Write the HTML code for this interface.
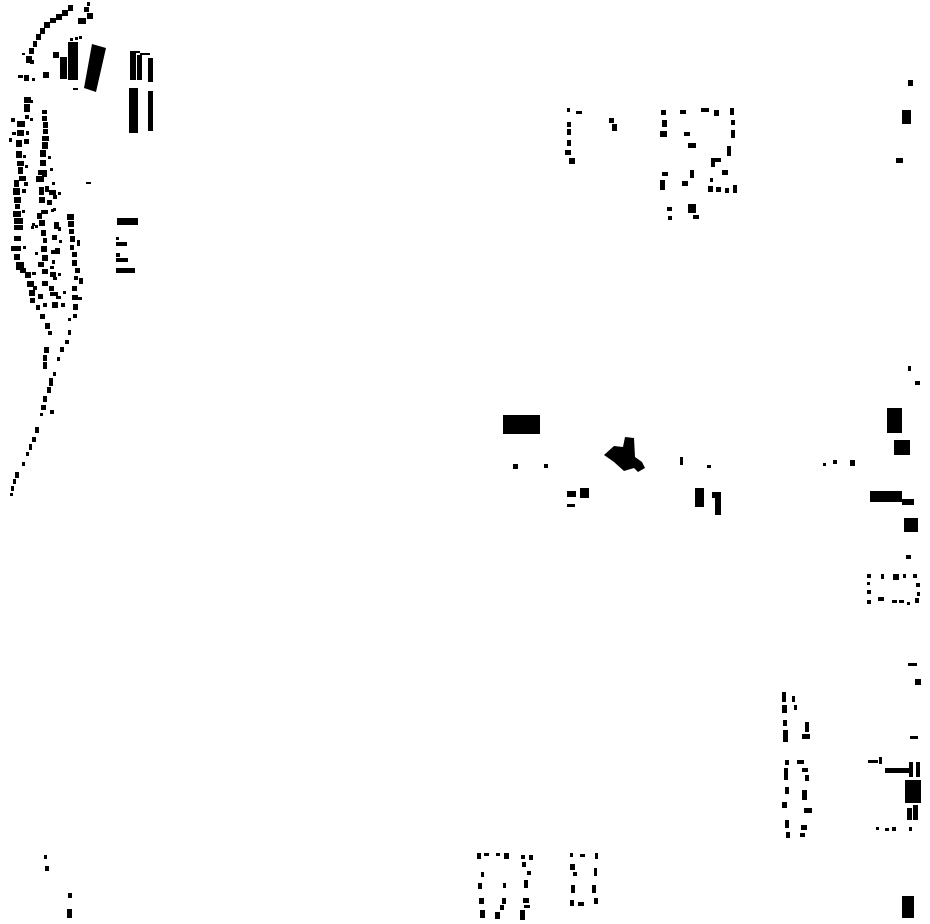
<!DOCTYPE html>
<html><head><meta charset="utf-8"><style>
html,body{margin:0;padding:0;background:#fff;width:930px;height:924px;overflow:hidden}
svg{display:block}
</style></head><body>
<svg width="930" height="924" viewBox="0 0 930 924" xmlns="http://www.w3.org/2000/svg" fill="#000">
<!-- top-left arc -->
<g>
<rect x="87" y="2" width="3" height="4"/><rect x="84" y="7" width="5" height="5"/><rect x="87" y="13" width="6" height="6"/><rect x="78" y="18" width="8" height="6"/>
<rect x="68" y="5" width="5" height="6"/><rect x="62" y="10" width="6" height="6"/><rect x="56" y="14" width="6" height="6"/><rect x="50" y="18" width="6" height="5"/>
<rect x="44" y="22" width="6" height="6"/><rect x="40" y="28" width="5" height="6"/><rect x="36" y="34" width="5" height="6"/><rect x="33" y="41" width="4" height="6"/>
<rect x="29" y="48" width="5" height="6"/><rect x="26" y="56" width="6" height="7"/><rect x="22" y="53" width="3" height="2"/><rect x="30" y="60" width="4" height="4"/>
<rect x="18" y="75" width="5" height="3"/><rect x="24" y="75" width="5" height="6"/><rect x="32" y="78" width="3" height="3"/><rect x="43" y="72" width="6" height="6"/>
<rect x="53" y="52" width="6" height="6"/><rect x="73" y="88" width="5" height="2"/>
<rect x="60" y="57" width="7" height="22"/><rect x="68" y="42" width="10" height="38"/>
<rect x="70" y="38" width="3" height="3"/><rect x="75" y="37" width="3" height="3"/><rect x="79" y="36" width="3" height="3"/>
<polygon points="92,44 106,48 96,92 84,88"/>
<rect x="130" y="52" width="6" height="28"/><rect x="137" y="55" width="5" height="25"/><rect x="148" y="58" width="5" height="24"/>
<rect x="130" y="51" width="10" height="2"/><rect x="140" y="53" width="10" height="2"/>
<rect x="129" y="88" width="9" height="45"/><rect x="148" y="91" width="5" height="40"/>
<rect x="117" y="218" width="21" height="7"/><rect x="116" y="237" width="3" height="3"/><rect x="116" y="242" width="11" height="4"/>
<rect x="116" y="253" width="4" height="4"/><rect x="116" y="258" width="12" height="4"/><rect x="116" y="268" width="19" height="5"/>
<rect x="86" y="182" width="5" height="2"/>
</g>
<!-- band columns -->
<g>
<rect x="24" y="97" width="7" height="6"/><rect x="24" y="104" width="6" height="8"/><rect x="30" y="100" width="3" height="3"/>
<rect x="11" y="118" width="4" height="4"/><rect x="17" y="121" width="8" height="6"/><rect x="25" y="115" width="4" height="4"/><rect x="30" y="118" width="3" height="3"/>
<rect x="12" y="132" width="4" height="3"/><rect x="17" y="130" width="7" height="6"/><rect x="26" y="131" width="3" height="4"/>
<rect x="9" y="138" width="3" height="4"/><rect x="16" y="140" width="6" height="7"/><rect x="24" y="139" width="5" height="5"/>
<rect x="16" y="151" width="6" height="7"/><rect x="23" y="155" width="3" height="3"/>
<rect x="17" y="161" width="7" height="5"/><rect x="18" y="167" width="5" height="7"/><rect x="25" y="165" width="3" height="3"/>
<rect x="19" y="176" width="7" height="5"/><rect x="24" y="182" width="4" height="4"/><rect x="14" y="180" width="5" height="7"/>
<rect x="13" y="188" width="7" height="7"/><rect x="22" y="189" width="4" height="4"/>
<rect x="14" y="197" width="7" height="6"/><rect x="15" y="204" width="5" height="5"/>
<rect x="13" y="211" width="8" height="6"/><rect x="14" y="218" width="9" height="6"/><rect x="22" y="210" width="3" height="3"/>
<rect x="14" y="225" width="9" height="5"/><rect x="32" y="223" width="3" height="3"/>
<rect x="14" y="236" width="7" height="5"/><rect x="11" y="246" width="10" height="5"/><rect x="23" y="246" width="3" height="3"/>
<rect x="14" y="254" width="6" height="6"/><rect x="16" y="262" width="8" height="8"/><rect x="20" y="268" width="6" height="5"/>
<rect x="25" y="272" width="6" height="6"/><rect x="32" y="272" width="4" height="3"/>
<rect x="27" y="281" width="7" height="6"/><rect x="33" y="286" width="4" height="4"/><rect x="29" y="290" width="6" height="6"/>
<rect x="30" y="298" width="5" height="5"/><rect x="38" y="294" width="5" height="5"/>
<rect x="42" y="110" width="5" height="4"/><rect x="42" y="116" width="5" height="5"/><rect x="43" y="122" width="5" height="6"/><rect x="43" y="129" width="5" height="5"/>
<rect x="42" y="136" width="7" height="5"/><rect x="42" y="142" width="6" height="7"/><rect x="40" y="150" width="6" height="7"/><rect x="48" y="156" width="3" height="3"/>
<rect x="40" y="160" width="6" height="6"/><rect x="38" y="170" width="9" height="5"/><rect x="36" y="176" width="8" height="6"/><rect x="42" y="173" width="5" height="4"/>
<rect x="50" y="168" width="3" height="3"/><rect x="52" y="182" width="3" height="3"/>
<rect x="39" y="187" width="5" height="8"/><rect x="45" y="186" width="4" height="6"/><rect x="49" y="190" width="7" height="5"/><rect x="53" y="195" width="4" height="4"/>
<rect x="39" y="197" width="6" height="6"/><rect x="47" y="200" width="5" height="5"/><rect x="53" y="208" width="3" height="3"/><rect x="58" y="192" width="3" height="3"/>
<rect x="37" y="213" width="5" height="6"/><rect x="41" y="210" width="7" height="4"/><rect x="51" y="209" width="3" height="3"/>
<rect x="39" y="220" width="6" height="6"/><rect x="31" y="226" width="3" height="3"/><rect x="35" y="225" width="3" height="3"/><rect x="54" y="222" width="5" height="7"/><rect x="58" y="227" width="3" height="4"/>
<rect x="41" y="230" width="5" height="6"/><rect x="52" y="235" width="5" height="5"/><rect x="43" y="238" width="4" height="5"/><rect x="59" y="240" width="3" height="3"/>
<rect x="41" y="246" width="6" height="6"/><rect x="51" y="250" width="4" height="4"/><rect x="55" y="248" width="5" height="6"/><rect x="35" y="252" width="3" height="3"/>
<rect x="42" y="255" width="6" height="6"/><rect x="52" y="260" width="3" height="4"/><rect x="38" y="262" width="6" height="5"/>
<rect x="42" y="269" width="6" height="5"/><rect x="50" y="266" width="4" height="3"/><rect x="50" y="272" width="6" height="5"/><rect x="53" y="277" width="4" height="3"/><rect x="58" y="273" width="3" height="3"/>
<rect x="42" y="281" width="6" height="5"/><rect x="49" y="286" width="5" height="5"/><rect x="50" y="292" width="8" height="4"/><rect x="56" y="296" width="5" height="3"/>
<rect x="43" y="303" width="4" height="4"/><rect x="61" y="303" width="4" height="4"/><rect x="52" y="302" width="6" height="6"/><rect x="63" y="291" width="3" height="3"/>
<rect x="67" y="214" width="7" height="6"/><rect x="68" y="221" width="6" height="6"/><rect x="69" y="229" width="5" height="5"/><rect x="70" y="236" width="5" height="6"/>
<rect x="77" y="240" width="3" height="6"/><rect x="70" y="245" width="4" height="5"/><rect x="72" y="252" width="5" height="5"/><rect x="72" y="260" width="5" height="6"/>
<rect x="75" y="268" width="5" height="5"/><rect x="74" y="276" width="4" height="4"/><rect x="79" y="278" width="4" height="6"/><rect x="72" y="286" width="5" height="5"/>
<rect x="72" y="295" width="6" height="5"/><rect x="73" y="304" width="5" height="6"/><rect x="78" y="297" width="4" height="3"/><rect x="73" y="314" width="4" height="4"/><rect x="68" y="318" width="3" height="3"/>
<rect x="36" y="305" width="4" height="5"/><rect x="40" y="314" width="5" height="5"/><rect x="45" y="323" width="5" height="6"/><rect x="48" y="331" width="4" height="4"/>
<rect x="68" y="330" width="3" height="5"/><rect x="65" y="340" width="4" height="4"/><rect x="44" y="347" width="5" height="6"/><rect x="43" y="355" width="4" height="6"/>
<rect x="43" y="362" width="4" height="7"/><rect x="60" y="347" width="4" height="5"/><rect x="57" y="357" width="3" height="4"/><rect x="53" y="372" width="3" height="4"/>
<rect x="49" y="378" width="4" height="8"/><rect x="47" y="387" width="4" height="6"/><rect x="43" y="396" width="4" height="6"/><rect x="41" y="405" width="5" height="5"/>
<rect x="40" y="413" width="3" height="3"/><rect x="50" y="410" width="4" height="4"/><rect x="35" y="427" width="4" height="6"/><rect x="32" y="437" width="4" height="5"/>
<rect x="29" y="444" width="3" height="6"/><rect x="26" y="452" width="3" height="4"/><rect x="22" y="462" width="3" height="4"/><rect x="15" y="472" width="4" height="6"/>
<rect x="13" y="479" width="3" height="5"/><rect x="11" y="486" width="3" height="5"/><rect x="10" y="493" width="3" height="3"/>
</g>
<!-- top middle cluster -->
<g>
<rect x="567" y="108" width="3" height="4"/><rect x="576" y="111" width="6" height="3"/><rect x="567" y="122" width="4" height="5"/><rect x="567" y="129" width="4" height="6"/>
<rect x="567" y="140" width="4" height="6"/><rect x="565" y="150" width="6" height="5"/><rect x="569" y="158" width="6" height="6"/><rect x="609" y="118" width="5" height="5"/><rect x="612" y="124" width="5" height="7"/>
<rect x="661" y="110" width="5" height="5"/><rect x="680" y="110" width="6" height="4"/><rect x="701" y="108" width="8" height="4"/><rect x="714" y="110" width="5" height="6"/><rect x="730" y="108" width="4" height="7"/>
<rect x="662" y="120" width="5" height="7"/><rect x="660" y="131" width="7" height="6"/><rect x="684" y="132" width="6" height="4"/><rect x="688" y="143" width="8" height="5"/>
<rect x="731" y="120" width="4" height="5"/><rect x="731" y="130" width="4" height="8"/><rect x="727" y="146" width="4" height="10"/><rect x="711" y="158" width="10" height="4"/><rect x="711" y="160" width="4" height="7"/>
<rect x="662" y="172" width="6" height="4"/><rect x="660" y="180" width="5" height="10"/><rect x="690" y="170" width="4" height="8"/><rect x="682" y="181" width="6" height="5"/>
<rect x="722" y="170" width="6" height="5"/><rect x="710" y="178" width="3" height="4"/><rect x="708" y="186" width="5" height="6"/><rect x="716" y="187" width="5" height="5"/><rect x="725" y="188" width="4" height="5"/><rect x="733" y="185" width="4" height="8"/>
<rect x="688" y="204" width="8" height="9"/><rect x="667" y="207" width="5" height="4"/><rect x="693" y="215" width="6" height="4"/><rect x="668" y="216" width="4" height="4"/>
</g>
<!-- right column -->
<g>
<rect x="908" y="80" width="5" height="6"/><rect x="902" y="110" width="9" height="14"/><rect x="896" y="158" width="7" height="5"/>
<rect x="908" y="366" width="3" height="5"/><rect x="915" y="381" width="5" height="4"/><rect x="887" y="408" width="15" height="25"/><rect x="894" y="440" width="16" height="15"/>
<rect x="870" y="491" width="32" height="11"/><rect x="902" y="499" width="12" height="6"/><rect x="904" y="518" width="14" height="14"/><rect x="906" y="555" width="5" height="4"/>
<rect x="867" y="574" width="4" height="4"/><rect x="867" y="582" width="3" height="3"/><rect x="867" y="590" width="4" height="4"/><rect x="867" y="600" width="4" height="4"/>
<rect x="881" y="574" width="3" height="5"/><rect x="893" y="574" width="6" height="6"/><rect x="903" y="574" width="3" height="4"/><rect x="913" y="574" width="4" height="4"/><rect x="916" y="583" width="4" height="4"/><rect x="917" y="592" width="3" height="4"/>
<rect x="878" y="597" width="6" height="4"/><rect x="892" y="600" width="5" height="3"/><rect x="899" y="600" width="5" height="3"/><rect x="907" y="602" width="3" height="3"/><rect x="915" y="598" width="4" height="5"/>
<rect x="908" y="663" width="9" height="3"/><rect x="915" y="679" width="6" height="6"/><rect x="910" y="736" width="8" height="3"/>
<rect x="868" y="760" width="10" height="3"/><rect x="879" y="757" width="3" height="7"/><rect x="885" y="768" width="25" height="5"/><rect x="909" y="762" width="4" height="15"/><rect x="916" y="762" width="4" height="15"/>
<rect x="905" y="780" width="16" height="23"/><rect x="907" y="808" width="5" height="12"/><rect x="913" y="805" width="5" height="15"/>
<rect x="876" y="827" width="3" height="3"/><rect x="885" y="828" width="4" height="3"/><rect x="892" y="827" width="4" height="4"/><rect x="909" y="827" width="3" height="4"/>
<rect x="902" y="896" width="12" height="22"/>
</g>
<!-- lower right left-column -->
<g>
<rect x="782" y="692" width="4" height="10"/><rect x="792" y="696" width="3" height="6"/><rect x="782" y="705" width="5" height="8"/><rect x="794" y="705" width="3" height="5"/>
<rect x="783" y="720" width="4" height="6"/><rect x="805" y="722" width="4" height="10"/><rect x="783" y="730" width="5" height="12"/><rect x="802" y="734" width="8" height="5"/>
<rect x="785" y="760" width="4" height="5"/><rect x="797" y="760" width="7" height="4"/><rect x="802" y="768" width="6" height="4"/><rect x="805" y="775" width="4" height="6"/>
<rect x="784" y="768" width="4" height="12"/><rect x="785" y="787" width="4" height="7"/><rect x="802" y="790" width="5" height="10"/><rect x="782" y="802" width="5" height="6"/>
<rect x="804" y="808" width="8" height="5"/><rect x="785" y="820" width="4" height="8"/><rect x="801" y="825" width="6" height="5"/><rect x="786" y="832" width="4" height="6"/><rect x="800" y="833" width="5" height="4"/>
</g>
<!-- middle row -->
<g>
<rect x="503" y="415" width="37" height="19"/><rect x="513" y="464" width="5" height="5"/><rect x="544" y="464" width="4" height="4"/>
<polygon points="604,455 614,446 623,447 625,437 634,438 635,457 642,462 645,468 638,472 634,468 624,471 614,462"/>
<rect x="680" y="457" width="3" height="8"/><rect x="707" y="465" width="4" height="3"/>
<rect x="567" y="491" width="9" height="6"/><rect x="567" y="504" width="8" height="3"/><rect x="580" y="488" width="9" height="10"/>
<rect x="695" y="488" width="9" height="19"/><rect x="712" y="492" width="9" height="6"/><rect x="715" y="498" width="6" height="17"/>
<rect x="823" y="463" width="3" height="3"/><rect x="833" y="460" width="4" height="4"/><rect x="850" y="460" width="5" height="6"/>
</g>
<!-- bottom -->
<g>
<rect x="477" y="853" width="4" height="6"/><rect x="484" y="853" width="5" height="3"/><rect x="496" y="853" width="4" height="3"/><rect x="504" y="853" width="5" height="6"/>
<rect x="521" y="855" width="4" height="4"/><rect x="529" y="855" width="4" height="5"/><rect x="481" y="872" width="3" height="5"/><rect x="478" y="883" width="4" height="6"/>
<rect x="503" y="883" width="3" height="5"/><rect x="522" y="862" width="4" height="5"/><rect x="527" y="871" width="4" height="4"/><rect x="524" y="880" width="4" height="8"/>
<rect x="479" y="898" width="5" height="6"/><rect x="502" y="898" width="4" height="6"/><rect x="523" y="898" width="6" height="5"/><rect x="480" y="910" width="5" height="8"/>
<rect x="495" y="912" width="5" height="7"/><rect x="500" y="905" width="4" height="5"/><rect x="520" y="910" width="5" height="10"/><rect x="524" y="905" width="6" height="3"/>
<rect x="570" y="853" width="3" height="4"/><rect x="580" y="854" width="5" height="3"/><rect x="595" y="853" width="3" height="6"/><rect x="570" y="864" width="5" height="6"/>
<rect x="573" y="872" width="4" height="4"/><rect x="594" y="868" width="3" height="8"/><rect x="571" y="885" width="4" height="8"/><rect x="592" y="885" width="4" height="8"/>
<rect x="570" y="900" width="4" height="6"/><rect x="578" y="902" width="6" height="4"/><rect x="594" y="898" width="4" height="6"/>
<rect x="44" y="855" width="3" height="4"/><rect x="45" y="866" width="4" height="5"/><rect x="68" y="893" width="4" height="5"/><rect x="67" y="909" width="5" height="9"/>
</g>
</svg>
</body></html>
